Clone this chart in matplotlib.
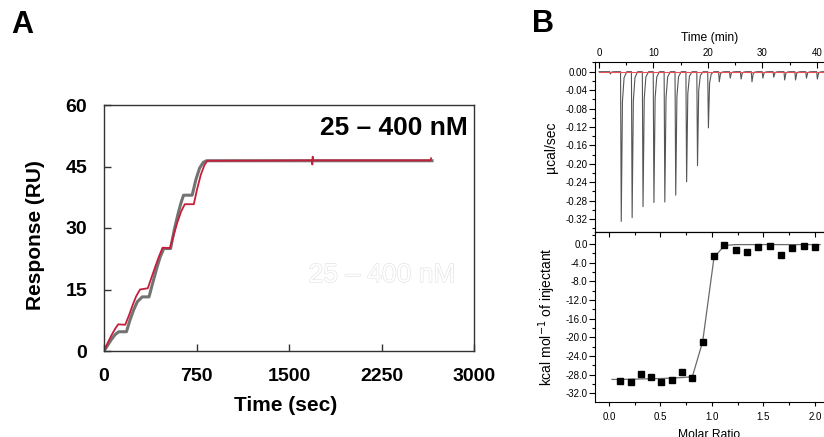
import matplotlib.pyplot as plt
import matplotlib.patheffects as pe
from matplotlib.ticker import MultipleLocator

plt.rcParams['font.family'] = ['Liberation Sans', 'DejaVu Sans']

# ---- Panel A: SPR single-cycle kinetics (25 - 400 nM) ----
spr_time = [0, 30, 60, 90, 115, 172, 200, 230, 260, 292, 355, 385, 415, 445, 475,
            535, 565, 595, 625, 655, 728, 755, 785, 815, 838, 1686, 1689, 1692,
            1696, 2648, 2652]
spr_resp = [0, 2.0, 3.8, 5.4, 6.5, 6.4, 8.5, 11.0, 13.3, 15.0, 15.3, 17.9, 20.5,
            23.0, 25.2, 25.1, 28.3, 31.4, 34.0, 35.8, 35.8, 39.5, 43.0, 45.4, 46.4,
            46.5, 45.5, 47.4, 46.5, 46.5, 47.0]
fit_time = [0, 30, 60, 90, 120, 182, 210, 240, 270, 310, 365, 395, 425, 455, 485,
            540, 570, 600, 625, 645, 715, 745, 775, 805, 830, 2660]
fit_resp = [0, 1.4, 2.8, 4.0, 4.7, 4.7, 7.5, 10.0, 12.0, 13.2, 13.2, 16.6, 19.9,
            22.9, 25.0, 25.0, 29.6, 33.4, 36.2, 38.0, 38.0, 41.8, 44.6, 46.0, 46.4,
            46.4]

# ---- Panel B: ITC raw heats and integrated isotherm ----
inj_min = [2, 4, 6, 8, 10, 12, 14, 16, 18, 20, 22, 24, 26, 28, 30, 32, 34, 36, 38, 40]
peak_ucal = [-0.005, -0.325, -0.317, -0.293, -0.284, -0.283, -0.268, -0.239, -0.204,
             -0.122, -0.022, -0.014, -0.016, -0.022, -0.014, -0.012, -0.018, -0.018,
             -0.014, -0.016]
molar_ratio = [0.11, 0.21, 0.31, 0.41, 0.51, 0.61, 0.71, 0.81, 0.91, 1.02, 1.12,
               1.23, 1.34, 1.45, 1.56, 1.67, 1.78, 1.89, 2.0]
heat_kcal = [-29.4, -29.6, -27.8, -28.4, -29.6, -29.2, -27.3, -28.6, -20.9, -2.6,
             -0.1, -1.3, -1.6, -0.7, -0.4, -2.4, -0.9, -0.4, -0.6]
fit_ratio = [0.03, 0.11, 0.31, 0.51, 0.71, 0.81, 0.91, 1.02, 1.12, 1.23, 1.5, 2.05]
fit_kcal = [-29.0, -29.0, -28.9, -28.8, -28.6, -28.4, -20.9, -2.9, -0.3, -0.1, -0.1,
            -0.1]

fig = plt.figure(figsize=(8.24, 4.37), dpi=100)

# ---------------- Panel A ----------------
axA = fig.add_axes([104 / 824, 1 - 351 / 437, 370 / 824, 246 / 437])
axA.plot(fit_time, fit_resp, color='#737373', lw=2.2)
axA.plot(spr_time, spr_resp, color='#c41e3a', lw=1.3)
axA.set_xlim(0, 3000)
axA.set_ylim(0, 60)
axA.set_xticks([0, 750, 1500, 2250, 3000])
axA.set_yticks([0, 15, 30, 45, 60])
axA.tick_params(direction='in', length=5, width=1, pad=12, labelsize=14, color='#333333')
for lab in axA.get_xticklabels() + axA.get_yticklabels():
    lab.set_fontweight('bold')
for sp in axA.spines.values():
    sp.set_color('#333333')
    sp.set_linewidth(1)
axA.set_xlabel('Time (sec)', fontsize=15, fontweight='bold')
axA.set_ylabel('Response (RU)', fontsize=15, fontweight='bold')
axA.xaxis.set_label_coords(0.49, -0.22)
axA.xaxis.label.set_va('center')
axA.yaxis.set_label_coords(-0.186, 0.47)
axA.yaxis.label.set_va('center')

fig.text(468 / 824, 1 - 128 / 437, '25 – 400 nM', ha='right', va='center',
         fontsize=19, fontweight='bold')
fig.text(382 / 824, 1 - 275 / 437, '25 – 400 nM', ha='center', va='center',
         fontsize=19, color='white',
         path_effects=[pe.Stroke(linewidth=0.8, foreground='#e0e0e0'), pe.Normal()])

fig.text(22 / 824, 1 - 25 / 437, 'A', ha='center', va='center', fontsize=22,
         fontweight='bold')
fig.text(543 / 824, 1 - 24 / 437, 'B', ha='center', va='center', fontsize=22,
         fontweight='bold')

# ---------------- Panel B top: raw thermogram ----------------
axT = fig.add_axes([594.5 / 824, 1 - 232 / 437, 229.5 / 824, 170 / 437])
trace_t = [0.0]
trace_y = [0.0]
for t, d in zip(inj_min, peak_ucal):
    trace_t += [t - 0.05, t + 0.08, t + 0.3, t + 0.6, t + 1.1]
    trace_y += [0.0, d, 0.2 * d, 0.04 * d, 0.0]
trace_t.append(41.5)
trace_y.append(0.0)
axT.plot(trace_t, trace_y, color='#555555', lw=0.8)
axT.plot([0, 41.5], [0, 0], color='#e8505a', lw=0.8)
axT.set_xlim(-0.83, 41.3)
axT.set_ylim(-0.348, 0.021)
axT.xaxis.tick_top()
axT.xaxis.set_label_position('top')
axT.set_xticks([0, 10, 20, 30, 40])
axT.xaxis.set_minor_locator(MultipleLocator(5))
axT.set_yticks([0.0, -0.04, -0.08, -0.12, -0.16, -0.20, -0.24, -0.28, -0.32])
axT.set_yticklabels(['0.00', '-0.04', '-0.08', '-0.12', '-0.16', '-0.20', '-0.24',
                     '-0.28', '-0.32'])
axT.yaxis.set_minor_locator(MultipleLocator(0.02))
axT.tick_params(axis='x', which='major', direction='in', length=4, width=0.8,
                labelsize=7, pad=3)
axT.tick_params(axis='x', which='minor', direction='in', length=2.5, width=0.8)
axT.tick_params(axis='y', which='major', direction='out', length=4, width=0.8,
                labelsize=7, pad=1)
axT.tick_params(axis='y', which='minor', direction='out', length=2, width=0.8)
axT.spines['right'].set_visible(False)
for sp in axT.spines.values():
    sp.set_linewidth(0.8)
axT.set_xlabel('Time (min)', fontsize=8.7, labelpad=5)
axT.set_ylabel('µcal/sec', fontsize=10)
axT.yaxis.set_label_coords(-0.16, 0.5)

# ---------------- Panel B bottom: integrated heats ----------------
axB = fig.add_axes([594.5 / 824, 1 - 402.3 / 437, 229.5 / 824, 170.3 / 437])
axB.plot(fit_ratio, fit_kcal, color='#6a6a6a', lw=0.9)
axB.plot(molar_ratio, heat_kcal, 's', color='black', ms=5)
axB.set_xlim(-0.14, 2.088)
axB.set_ylim(-33.9, 2.6)
axB.set_xticks([0.0, 0.5, 1.0, 1.5, 2.0])
axB.set_xticklabels(['0.0', '0.5', '1.0', '1.5', '2.0'])
axB.xaxis.set_minor_locator(MultipleLocator(0.25))
axB.set_yticks([0, -4, -8, -12, -16, -20, -24, -28, -32])
axB.set_yticklabels(['0.0', '-4.0', '-8.0', '-12.0', '-16.0', '-20.0', '-24.0',
                     '-28.0', '-32.0'])
axB.yaxis.set_minor_locator(MultipleLocator(2))
axB.tick_params(axis='x', which='major', direction='out', length=3, width=0.8,
                labelsize=7, pad=4, top=False)
axB.tick_params(axis='x', which='minor', direction='out', length=2, width=0.8, top=False)
axB.tick_params(axis='y', which='major', direction='out', length=4, width=0.8,
                labelsize=7, pad=1)
axB.tick_params(axis='y', which='minor', direction='out', length=2, width=0.8)
axB.spines['right'].set_visible(False)
for sp in axB.spines.values():
    sp.set_linewidth(0.8)
# inward ticks on the shared top edge
axB2 = axB.secondary_xaxis('top')
axB2.set_xticks([0.0, 0.5, 1.0, 1.5, 2.0])
axB2.xaxis.set_minor_locator(MultipleLocator(0.25))
axB2.tick_params(which='major', direction='in', length=3.5, width=0.8, labeltop=False)
axB2.tick_params(which='minor', direction='in', length=2, width=0.8)
axB2.spines['top'].set_linewidth(0.8)
axB.set_xlabel('Molar Ratio', fontsize=8.7, labelpad=5)
axB.set_ylabel('kcal mol$^{-1}$ of injectant', fontsize=10)
axB.yaxis.set_label_coords(-0.16, 0.5)

fig.savefig('out.png', dpi=100)
